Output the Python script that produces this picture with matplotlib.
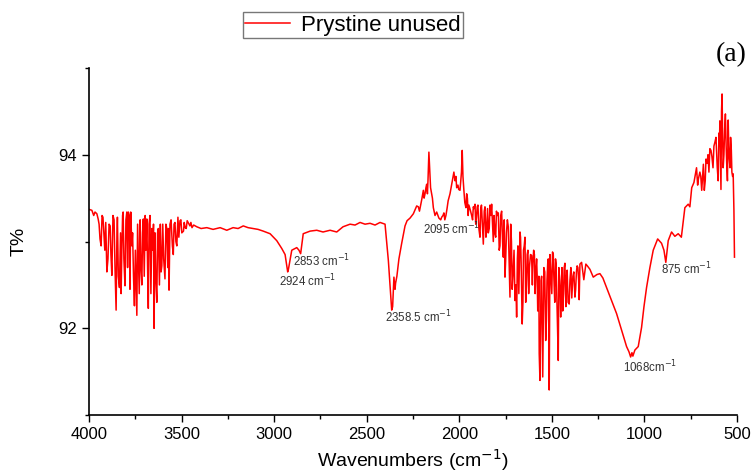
import matplotlib
matplotlib.use('Agg')
import matplotlib.pyplot as plt
import numpy as np
from matplotlib.ticker import MultipleLocator

plt.rcParams['font.family'] = ['Liberation Sans', 'DejaVu Sans']

# wavenumber (cm-1) and transmittance (%)
wavenumber = [4000, 3968, 3951, 3941, 3930, 3904, 3892, 3877, 3865, 3854,
              3847, 3836, 3823, 3816, 3806, 3796, 3788, 3775, 3769, 3755,
              3742, 3734, 3715, 3707, 3688, 3680, 3671, 3661, 3649, 3644,
              3634, 3626, 3607, 3590, 3580, 3568, 3563, 3550, 3536, 3526,
              3509, 3499, 3481, 3465, 3444, 3418, 3395, 3364, 3330, 3292,
              3256, 3222, 3195, 3167, 3141, 3113, 3087, 3059, 3022, 2986,
              2959, 2941, 2927, 2923, 2905, 2878, 2866, 2857, 2843, 2806,
              2770, 2736, 2698, 2662, 2628, 2590, 2563, 2536, 2509, 2482,
              2455, 2428, 2401, 2383, 2371, 2365, 2360, 2353, 2347, 2344,
              2337, 2326, 2311, 2293, 2282, 2266, 2248, 2230, 2221, 2203,
              2194, 2185, 2176, 2169, 2164, 2158, 2155, 2140, 2131, 2122,
              2110, 2095, 2083, 2072, 2060, 2050, 2041, 2034, 2029, 2023,
              2014, 2007, 1996, 1988, 1984, 1980, 1975, 1964, 1956, 1948,
              1933, 1924, 1915, 1907, 1899, 1888, 1880, 1870, 1861, 1852,
              1843, 1834, 1825, 1816, 1807, 1799, 1789, 1780, 1771, 1762,
              1753, 1745, 1735, 1726, 1718, 1710, 1699, 1690, 1683, 1672,
              1666, 1660, 1653, 1645, 1637, 1629, 1621, 1609, 1602, 1594,
              1586, 1579, 1573, 1568, 1564, 1558, 1549, 1543, 1533, 1526,
              1519, 1514, 1507, 1496, 1489, 1480, 1474, 1465, 1459, 1452,
              1445, 1437, 1429, 1424, 1417, 1406, 1397, 1386, 1375, 1367,
              1359, 1352, 1348, 1339, 1327, 1316, 1308, 1294, 1276, 1256,
              1240, 1224, 1204, 1177, 1150, 1123, 1096, 1083, 1074, 1067,
              1062, 1051, 1033, 1015, 1002, 988, 970, 952, 928, 907,
              894, 884, 871, 853, 835, 817, 800, 781, 763, 754,
              744, 732, 718, 708, 700, 690, 681, 676, 667, 656,
              646, 635, 624, 613, 606, 597, 592, 586, 580, 574,
              562, 555, 547, 541, 534, 527, 520, 516, 513]
transmittance = [93.37, 93.34, 93.26, 93.03, 93.30, 92.65, 93.20, 92.61, 93.25, 92.21,
                 93.28, 92.47, 92.90, 93.34, 92.49, 93.34, 93.34, 93.34, 92.95, 92.26,
                 92.15, 92.85, 92.50, 93.26, 93.26, 92.23, 93.30, 93.15, 92.00, 93.10,
                 92.30, 93.15, 92.72, 92.57, 93.15, 92.44, 93.20, 92.95, 93.22, 92.95,
                 93.24, 93.10, 93.16, 93.22, 93.16, 93.17, 93.15, 93.16, 93.14, 93.16,
                 93.13, 93.16, 93.15, 93.18, 93.16, 93.15, 93.14, 93.12, 93.09, 93.01,
                 92.92, 92.85, 92.65, 92.68, 92.90, 92.93, 92.90, 92.86, 93.09, 93.12,
                 93.13, 93.11, 93.13, 93.11, 93.17, 93.20, 93.19, 93.22, 93.20, 93.21,
                 93.19, 93.22, 93.20, 92.78, 92.40, 92.21, 92.25, 92.59, 92.45, 92.52,
                 92.60, 92.80, 92.98, 93.18, 93.24, 93.27, 93.32, 93.41, 93.40, 93.48,
                 93.59, 93.55, 93.66, 93.70, 94.03, 93.75, 93.62, 93.39, 93.30, 93.34,
                 93.27, 93.28, 93.33, 93.30, 93.47, 93.55, 93.66, 93.75, 93.80, 93.70,
                 93.62, 93.65, 93.59, 93.80, 94.05, 93.75, 93.59, 93.39, 93.50, 93.42,
                 93.30, 93.40, 93.43, 93.28, 93.42, 93.05, 93.42, 92.97, 93.40, 93.13,
                 93.10, 93.42, 93.43, 93.00, 93.09, 93.35, 93.33, 92.95, 93.35, 92.82,
                 92.59, 93.10, 93.17, 92.36, 93.00, 92.60, 92.32, 92.13, 92.95, 93.11,
                 92.80, 92.05, 92.90, 93.05, 92.50, 92.90, 92.70, 92.84, 92.75, 92.85,
                 92.67, 92.60, 92.24, 91.71, 91.40, 92.55, 91.44, 92.70, 91.86, 92.55,
                 92.80, 91.29, 92.70, 92.88, 92.60, 92.80, 92.45, 91.63, 92.60, 92.13,
                 92.70, 92.40, 92.75, 92.25, 92.67, 92.28, 92.70, 92.60, 92.36, 92.65,
                 92.70, 92.33, 92.74, 92.76, 92.56, 92.74, 92.72, 92.68, 92.59, 92.62,
                 92.63, 92.58, 92.47, 92.32, 92.17, 91.98, 91.79, 91.73, 91.67, 91.72,
                 91.68, 91.75, 91.79, 92.01, 92.25, 92.47, 92.70, 92.90, 93.03, 92.98,
                 92.90, 92.76, 93.01, 93.11, 93.06, 93.09, 93.05, 93.39, 93.43, 93.40,
                 93.62, 93.68, 93.85, 93.72, 93.80, 93.59, 93.89, 93.59, 93.95, 94.00,
                 94.07, 93.98, 94.10, 94.20, 93.85, 94.25, 94.39, 93.60, 94.70, 93.85,
                 94.47, 93.90, 94.40, 93.95, 94.20, 93.80, 93.78, 93.36, 92.82]

# extra readings in the noisy bands (merged with the above)
wavenumber_fine = [3985, 3975, 3958, 3946, 3935, 3925, 3915, 3910, 3898, 3886,
                   3882, 3871, 3860, 3850, 3842, 3830, 3827, 3819, 3812, 3801,
                   3792, 3783, 3779, 3765, 3760, 3750, 3746, 3738, 3729, 3724,
                   3720, 3711, 3702, 3697, 3693, 3684, 3676, 3666, 3656, 3652,
                   3640, 3630, 3620, 3615, 3611, 3602, 3597, 3585, 3575, 3571,
                   3557, 3545, 3541, 3531, 3520, 3515, 3504, 3490, 3486, 3475,
                   3470, 3455, 3450, 3435,
                   2215, 2190, 2180, 2172, 2145, 2115, 2100, 2088, 2078, 2066,
                   2018, 2003, 1992, 1970, 1960, 1952,
                   1940, 1928, 1920, 1911, 1903, 1894, 1884, 1875, 1865, 1856,
                   1847, 1838, 1829, 1820, 1812, 1803, 1794, 1784, 1776, 1766,
                   1757, 1749, 1740, 1730, 1722, 1714, 1704, 1694, 1686, 1678,
                   1669, 1656, 1649, 1641, 1633, 1625, 1615, 1605, 1598, 1590,
                   1582, 1576, 1570, 1561, 1555, 1546, 1538, 1529, 1522, 1516,
                   1510, 1500, 1492, 1484, 1477, 1470, 1462, 1455, 1448, 1441,
                   1433, 1426, 1420, 1412, 1402, 1392, 1381, 1371, 1363, 1355,
                   712, 695, 671, 661, 651, 640, 629, 618, 609, 601,
                   594, 583, 577, 570, 566, 558, 551, 544, 537, 530, 523]
transmittance_fine = [93.36, 93.30, 93.32, 93.20, 92.95, 93.28, 92.90, 93.22, 92.80, 93.18,
                      92.85, 93.30, 92.70, 93.00, 92.60, 93.10, 92.40, 93.30, 92.80, 93.25,
                      92.70, 93.30, 92.45, 93.10, 92.60, 92.90, 92.50, 93.20, 92.40, 93.25,
                      92.70, 93.10, 92.60, 93.30, 92.90, 92.70, 93.20, 92.40, 92.90, 93.20,
                      92.60, 93.10, 92.50, 93.20, 92.65, 93.20, 92.80, 93.20, 92.70, 93.15,
                      93.25, 92.85, 93.20, 93.00, 93.28, 93.05, 93.25, 93.12, 93.22, 93.15,
                      93.24, 93.18, 93.22, 93.19,
                      93.35, 93.50, 93.62, 93.55, 93.50, 93.30, 93.25, 93.30, 93.25, 93.38,
                      93.75, 93.60, 93.70, 93.45, 93.55, 93.30,
                      93.36, 93.25, 93.38, 93.20, 93.40, 93.15, 93.38, 93.20, 93.35, 93.05,
                      93.38, 93.15, 93.30, 93.20, 93.30, 93.05, 93.30, 92.90, 93.30, 93.00,
                      93.25, 92.80, 93.25, 92.70, 93.20, 92.45, 92.90, 92.50, 92.80, 92.40,
                      93.05, 92.30, 92.95, 92.30, 92.85, 92.40, 92.85, 92.50, 92.90, 92.40,
                      92.80, 92.20, 92.60, 92.00, 92.60, 92.10, 92.65, 92.10, 92.75, 92.00,
                      92.85, 92.40, 92.85, 92.30, 92.75, 92.10, 92.70, 92.40, 92.55, 92.20,
                      92.70, 92.40, 92.60, 92.30, 92.55, 92.35, 92.65, 92.45, 92.72, 92.55,
                      93.65, 93.75, 93.70, 93.90, 93.80, 94.05, 93.85, 94.15, 94.00, 93.70,
                      94.10, 94.50, 94.20, 94.00, 94.30, 94.10, 93.70, 94.10, 93.85, 94.05, 93.75]

# peak labels: text, x position, y position
peak_labels = ['2853 cm$^{-1}$', '2924 cm$^{-1}$', '2358.5 cm$^{-1}$',
               '2095 cm$^{-1}$', '1068cm$^{-1}$', '875 cm$^{-1}$']
peak_x = [2898, 2974, 2401, 2196, 1116, 911]
peak_y = [92.78, 92.55, 92.13, 93.14, 91.56, 92.68]

wn = np.array(wavenumber + wavenumber_fine, dtype=float)
tr = np.array(transmittance + transmittance_fine)
order = np.argsort(-wn)
wn, tr = wn[order], tr[order]

fig = plt.figure(figsize=(7.55, 4.75), dpi=100)
ax = fig.add_axes([0.118, 0.126, 0.858, 0.731])

ax.plot(wn, tr, color='#ff0000', lw=1.1, label='Prystine unused')

for lab, px, py in zip(peak_labels, peak_x, peak_y):
    ax.text(px, py, lab, fontsize=8.3, color='#333333', ha='left', va='center')

ax.set_xlim(4000, 500)
ax.set_ylim(91, 95)
ax.xaxis.set_major_locator(MultipleLocator(500))
ax.xaxis.set_minor_locator(MultipleLocator(250))
ax.yaxis.set_major_locator(MultipleLocator(2))
ax.yaxis.set_minor_locator(MultipleLocator(1))
ax.tick_params(which='major', direction='out', length=5, width=1, labelsize=12, colors='black')
ax.tick_params(which='minor', direction='out', length=3, width=1)

for s in ['top', 'right']:
    ax.spines[s].set_visible(False)
for s in ['left', 'bottom']:
    ax.spines[s].set_linewidth(1.2)

ax.set_xlabel('Wavenumbers (cm$^{-1}$)', fontsize=14, labelpad=4)
ax.set_ylabel('T%', fontsize=14, labelpad=22)

fig.legend(loc='center', bbox_to_anchor=(353 / 755, 1 - 25 / 475), fontsize=16,
           frameon=True, fancybox=False, edgecolor='#555555', handlelength=2.0,
           borderpad=0.1, handletextpad=0.5)

fig.text(731 / 755, 1 - 55 / 475, '(a)', fontsize=20, family='Liberation Serif',
         ha='center', va='center')

fig.savefig('out.png', dpi=100)
